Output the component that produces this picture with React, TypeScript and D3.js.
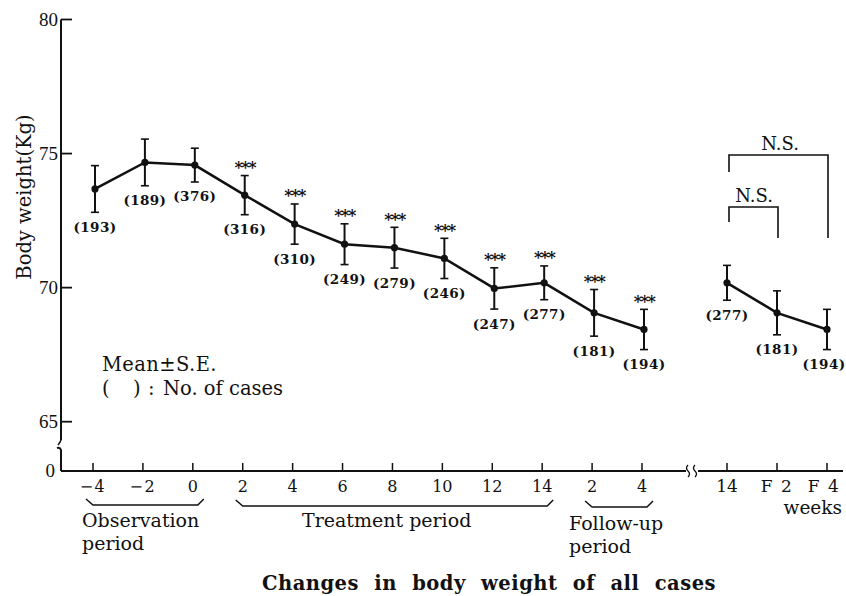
import React from "react";
import * as d3 from "d3";

// Time points (weeks) along the main axis
const weekLabels = ["−4", "−2", "0", "2", "4", "6", "8", "10", "12", "14", "2", "4"];
// Mean body weight (kg) and standard error at each time point
const meanWeight = [73.68, 74.67, 74.57, 73.45, 72.37, 71.62, 71.49, 71.09, 69.97, 70.18, 69.06, 68.44];
const seWeight = [0.87, 0.87, 0.63, 0.73, 0.75, 0.76, 0.76, 0.75, 0.77, 0.63, 0.87, 0.75];
const nCases = [193, 189, 376, 316, 310, 249, 279, 246, 247, 277, 181, 194];
// p < 0.001 versus baseline
const significant = [false, false, false, true, true, true, true, true, true, true, true, true];

// End-of-treatment vs follow-up comparison
const compareLabels = ["14", "F 2", "F 4"];
const compareMean = [70.18, 69.06, 68.44];
const compareSE = [0.65, 0.82, 0.75];
const compareCases = [277, 181, 194];

const yTicks = [65, 70, 75, 80];

const periodLabels = [
  { lines: ["Observation", "period"], from: 0, to: 2 },
  { lines: ["Treatment period"], from: 3, to: 9 },
  { lines: ["Follow-up", "period"], from: 10, to: 11 },
];

const W = 846;
const H = 596;
const INK = "#111";
const SERIF = "'DejaVu Serif', serif";
const NUM = "'Liberation Serif', 'Times New Roman', serif";

export default function App() {
  const axisX = 61;
  const axisY = 471;

  const x = d3.scaleLinear().domain([0, weekLabels.length - 1]).range([95, 644]);
  const xc = d3.scaleLinear().domain([0, compareLabels.length - 1]).range([727, 827]);
  const y = d3.scaleLinear().domain([65, 80]).range([421.7, 19.5]);

  const line = d3
    .line<number>()
    .x((_, i) => x(i))
    .y((d) => y(d));
  const lineC = d3
    .line<number>()
    .x((_, i) => xc(i))
    .y((d) => y(d));

  const errorBar = (cx: number, m: number, se: number, key: string) => {
    const top = y(m + se);
    const bot = y(m - se);
    return (
      <g key={key} stroke={INK} strokeWidth={2}>
        <line x1={cx} x2={cx} y1={top} y2={bot} />
        <line x1={cx - 4} x2={cx + 4} y1={top} y2={top} strokeWidth={1.6} />
        <line x1={cx - 4} x2={cx + 4} y1={bot} y2={bot} strokeWidth={1.6} />
      </g>
    );
  };

  const countLabel = (cx: number, m: number, se: number, n: number, key: string) => (
    <text
      key={key}
      x={Math.min(cx, W - 22)}
      y={y(m - se) + 19.5}
      textAnchor="middle"
      fontFamily={SERIF}
      fontWeight="bold"
      fontSize={13.5}
      letterSpacing={0.4}
      fill={INK}
    >
      ({n})
    </text>
  );

  // N.S. brackets over the comparison panel
  const nsBig = { y: 155, leftEnd: 172, rightEnd: 238 };
  const nsSmall = { y: 207, leftEnd: 222, rightEnd: 238 };

  return (
    <svg
      width={W}
      height={H}
      viewBox={`0 0 ${W} ${H}`}
      style={{ position: "absolute", left: 0, top: 0, background: "#fff" }}
    >
      {/* Y axis with break */}
      <g stroke={INK} strokeWidth={2} fill="none">
        <line x1={axisX} x2={axisX} y1={y(80)} y2={440} />
        <path d={`M${axisX},440 q-1,3 -3,5`} strokeWidth={1.5} />
        <path d={`M${axisX - 4},448 q3,-1 4,2 L${axisX},${axisY}`} />
      </g>
      {yTicks.map((t) => (
        <g key={t}>
          <line x1={axisX} x2={axisX + 11} y1={y(t)} y2={y(t)} stroke={INK} strokeWidth={1.8} />
          <text x={axisX - 3} y={y(t) + 6.5} textAnchor="end" fontFamily={NUM} fontSize={19} fill={INK}>
            {t}
          </text>
        </g>
      ))}
      <text x={axisX - 6} y={axisY + 6} textAnchor="end" fontFamily={NUM} fontSize={19} fill={INK}>
        0
      </text>
      <text
        transform={`translate(31,197) rotate(-90)`}
        textAnchor="middle"
        fontFamily={SERIF}
        fontSize={19.5}
        fill={INK}
      >
        Body weight(Kg)
      </text>

      {/* X axis with break */}
      <g stroke={INK} strokeWidth={2} fill="none">
        <line x1={axisX} x2={686} y1={axisY} y2={axisY} />
        <line x1={698} x2={843} y1={axisY} y2={axisY} />
        <path d={`M688,465 q-3,3 0,6 q3,3 0,6`} strokeWidth={1.3} />
        <path d={`M695,465 q-3,3 0,6 q3,3 0,6`} strokeWidth={1.3} />
      </g>
      {weekLabels.map((lab, i) => (
        <g key={`xt${i}`}>
          <line x1={x(i) - 2} x2={x(i) - 2} y1={axisY} y2={axisY - 8} stroke={INK} strokeWidth={1.5} />
          <text x={x(i) - 2} y={492} textAnchor="middle" fontFamily={SERIF} fontSize={16} fill={INK} letterSpacing={lab.startsWith("−") ? 1.5 : 0}>
            {lab}
          </text>
        </g>
      ))}
      {compareLabels.map((lab, i) => (
        <g key={`xc${i}`}>
          <line x1={xc(i)} x2={xc(i)} y1={axisY} y2={axisY - 8} stroke={INK} strokeWidth={1.5} />
          <text
            x={xc(i) + (i === 2 ? -3 : 0)}
            y={492}
            textAnchor="middle"
            fontFamily={SERIF}
            fontSize={17}
            letterSpacing={lab.startsWith("F") ? 1.5 : 0}
            fill={INK}
            style={{ whiteSpace: "pre" }}
          >
            {lab}
          </text>
        </g>
      ))}
      <text x={842} y={514} textAnchor="end" fontFamily={SERIF} fontSize={18.5} fill={INK}>
        weeks
      </text>

      {/* Period brackets */}
      {periodLabels.map((p, k) => {
        const x0 = x(p.from) - 9;
        const x1 = x(p.to) + 9;
        const top = 499 + k;
        const bot = 505 + k;
        return (
          <g key={`p${k}`}>
            <path
              d={`M${x0},${top} L${x0 + 7},${bot} L${x1 - 6},${bot} L${x1},${top}`}
              fill="none"
              stroke={INK}
              strokeWidth={1.5}
            />
          </g>
        );
      })}
      <text fontFamily={SERIF} fontSize={19} fill={INK}>
        <tspan x={82} y={527}>Observation</tspan>
        <tspan x={82} y={550}>period</tspan>
      </text>
      <text x={302} y={527} fontFamily={SERIF} fontSize={19} fill={INK}>
        Treatment period
      </text>
      <text fontFamily={SERIF} fontSize={19} fill={INK}>
        <tspan x={569} y={530}>Follow-up</tspan>
        <tspan x={569} y={553}>period</tspan>
      </text>

      {/* Main series */}
      <path d={line(meanWeight) ?? ""} fill="none" stroke={INK} strokeWidth={2.5} />
      {meanWeight.map((m, i) => errorBar(x(i), m, seWeight[i], `eb${i}`))}
      {meanWeight.map((m, i) => (
        <circle key={`pt${i}`} cx={x(i)} cy={y(m)} r={3.6} fill={INK} />
      ))}
      {meanWeight.map((m, i) => countLabel(x(i), m, seWeight[i], nCases[i], `n${i}`))}
      {meanWeight.map((m, i) =>
        significant[i] ? (
          <text
            key={`s${i}`}
            x={x(i)}
            y={y(m + seWeight[i]) - 2.5}
            textAnchor="middle"
            fontFamily={SERIF}
            fontWeight="bold"
            fontSize={16}
            letterSpacing={-1.5}
            fill={INK}
          >
            ***
          </text>
        ) : null
      )}

      {/* Comparison series */}
      <path d={lineC(compareMean) ?? ""} fill="none" stroke={INK} strokeWidth={2.5} />
      {compareMean.map((m, i) => errorBar(xc(i), m, compareSE[i], `ceb${i}`))}
      {compareMean.map((m, i) => (
        <circle key={`cpt${i}`} cx={xc(i)} cy={y(m)} r={3.6} fill={INK} />
      ))}
      {compareMean.map((m, i) => countLabel(xc(i), m, compareSE[i], compareCases[i], `cn${i}`))}

      {/* N.S. brackets */}
      <g fill="none" stroke={INK} strokeWidth={1.6}>
        <path d={`M${xc(0) + 2},${nsBig.leftEnd} L${xc(0) + 2},${nsBig.y} L${xc(2) + 1},${nsBig.y} L${xc(2) + 1},${nsBig.rightEnd}`} />
        <path d={`M${xc(0) + 2},${nsSmall.leftEnd} L${xc(0) + 2},${nsSmall.y} L${xc(1) + 1},${nsSmall.y} L${xc(1) + 1},${nsSmall.rightEnd}`} />
      </g>
      <text x={(xc(0) + xc(2)) / 2 + 3} y={150} textAnchor="middle" fontFamily={SERIF} fontSize={18} fill={INK}>
        N.S.
      </text>
      <text x={(xc(0) + xc(1)) / 2 + 2} y={202} textAnchor="middle" fontFamily={SERIF} fontSize={18} fill={INK}>
        N.S.
      </text>

      {/* Legend */}
      <text x={102} y={371} fontFamily={SERIF} fontSize={19.5} letterSpacing={0.4} fill={INK}>
        Mean±S.E.
      </text>
      <text y={395} fontFamily={SERIF} fontSize={19.5} fill={INK}>
        <tspan x={102}>(</tspan>
        <tspan x={133}>)</tspan>
        <tspan x={148}>:</tspan>
        <tspan x={163}>No. of cases</tspan>
      </text>

      {/* Title */}
      <text
        x={489}
        y={590}
        textAnchor="middle"
        fontFamily={SERIF}
        fontWeight="bold"
        fontSize={19.5}
        letterSpacing={0.5}
        wordSpacing={8}
        fill={INK}
      >
        Changes in body weight of all cases
      </text>
    </svg>
  );
}
